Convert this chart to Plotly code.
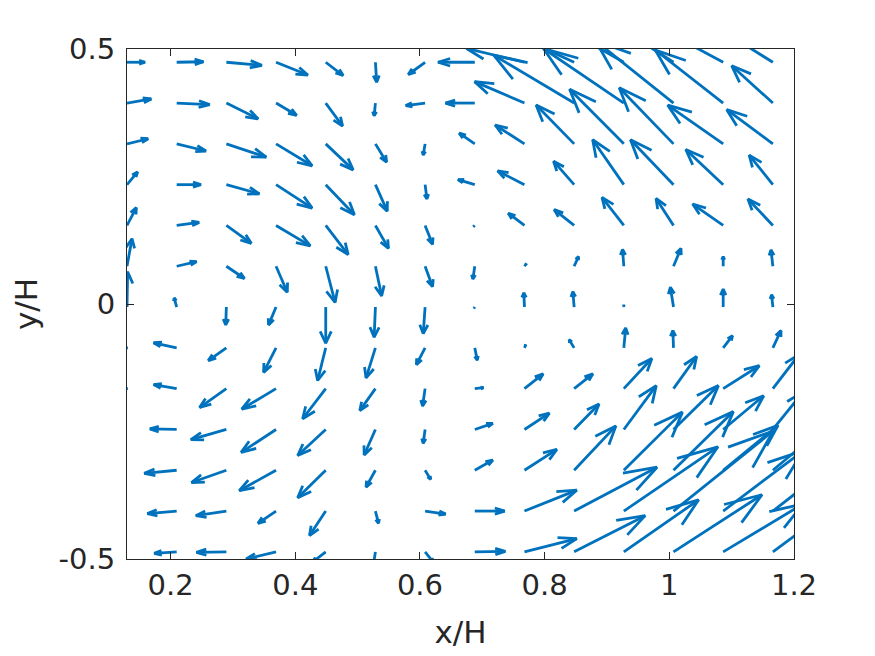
import plotly.graph_objects as go

# Grid of arrow tails (data units)
x_grid = [0.13 + 0.0797 * j for j in range(14)]
y_grid = [0.474 - 0.08 * i for i in range(13)]

# Velocity components as drawn (data units), rows from top (y=0.474) to bottom (y=-0.486)
U = [
    [0.029, 0.043, 0.057, 0.051, 0.028, 0.002, -0.027, -0.059, -0.093, -0.112, -0.112, -0.104, -0.096, -0.080],
    [0.039, 0.053, 0.051, 0.033, 0.027, -0.002, -0.031, -0.047, -0.080, -0.129, -0.129, -0.125, -0.109, -0.066],
    [0.034, 0.047, 0.064, 0.058, 0.044, 0.018, -0.003, -0.025, -0.047, -0.061, -0.087, -0.087, -0.089, -0.074],
    [0.017, 0.039, 0.053, 0.058, 0.046, 0.019, 0.003, -0.027, -0.043, -0.033, -0.050, -0.069, -0.060, -0.038],
    [0.015, 0.036, 0.040, 0.055, 0.036, 0.021, 0.012, -0.002, -0.026, -0.032, -0.035, -0.028, -0.049, -0.040],
    [0.008, 0.032, 0.029, 0.018, 0.015, 0.010, 0.012, -0.003, 0.003, 0.007, -0.002, 0.012, 0.000, -0.003],
    [0.001, -0.004, -0.001, -0.012, 0.000, -0.002, -0.003, -0.001, -0.001, -0.002, 0.000, -0.005, 0.000, -0.002],
    [0.001, -0.037, -0.029, -0.020, -0.013, -0.015, -0.014, 0.004, 0.002, -0.008, 0.003, -0.001, 0.015, 0.013],
    [0.001, -0.037, -0.043, -0.055, -0.037, -0.025, -0.004, 0.014, 0.030, 0.030, 0.045, 0.037, 0.058, 0.042],
    [0.000, -0.043, -0.057, -0.056, -0.045, -0.018, -0.003, 0.029, 0.040, 0.040, 0.052, 0.072, 0.065, 0.048],
    [0.000, -0.052, -0.056, -0.059, -0.045, -0.015, 0.009, 0.029, 0.052, 0.067, 0.094, 0.096, 0.088, 0.080],
    [0.000, -0.047, -0.049, -0.029, -0.026, 0.005, 0.033, 0.048, 0.084, 0.133, 0.151, 0.160, 0.128, 0.120],
    [0.000, -0.036, -0.048, -0.048, -0.021, -0.003, 0.013, 0.049, 0.084, 0.114, 0.120, 0.142, 0.128, 0.120],
]
V = [
    [0.000, 0.001, -0.006, -0.025, -0.026, -0.039, -0.024, 0.000, 0.027, 0.063, 0.078, 0.082, 0.063, 0.061],
    [0.008, -0.003, -0.031, -0.024, -0.045, -0.025, -0.005, 0.000, 0.042, 0.094, 0.107, 0.122, 0.104, 0.073],
    [0.010, -0.014, -0.026, -0.043, -0.051, -0.036, -0.022, 0.021, 0.037, 0.076, 0.107, 0.110, 0.076, 0.067],
    [0.025, 0.000, -0.018, -0.046, -0.059, -0.052, -0.028, 0.010, 0.027, 0.046, 0.088, 0.088, 0.069, 0.058],
    [0.035, 0.006, -0.035, -0.040, -0.057, -0.045, -0.037, -0.002, 0.024, 0.031, 0.055, 0.053, 0.042, 0.052],
    [0.054, 0.009, -0.024, -0.051, -0.071, -0.058, -0.040, -0.025, 0.005, 0.019, 0.033, 0.035, 0.019, 0.032],
    [0.069, 0.018, -0.035, -0.035, -0.071, -0.059, -0.052, -0.002, 0.028, 0.030, 0.004, 0.039, 0.035, 0.024],
    [0.000, 0.010, -0.025, -0.048, -0.064, -0.059, -0.033, -0.024, 0.006, 0.016, 0.039, 0.034, 0.024, 0.034],
    [0.000, 0.008, -0.037, -0.040, -0.059, -0.043, -0.034, 0.002, 0.029, 0.029, 0.059, 0.063, 0.045, 0.067],
    [0.000, 0.001, -0.020, -0.045, -0.051, -0.050, -0.027, 0.012, 0.032, 0.050, 0.086, 0.086, 0.066, 0.073],
    [0.000, -0.006, -0.024, -0.040, -0.054, -0.033, -0.018, 0.020, 0.041, 0.087, 0.114, 0.115, 0.088, 0.082],
    [0.000, -0.005, -0.009, -0.024, -0.048, -0.024, -0.006, 0.000, 0.041, 0.086, 0.126, 0.157, 0.118, 0.114],
    [0.000, -0.003, -0.001, -0.014, -0.020, -0.024, -0.020, 0.001, 0.026, 0.071, 0.102, 0.112, 0.094, 0.108],
]

x_ticks = [0.2, 0.4, 0.6, 0.8, 1.0, 1.2]
x_ticktext = ["0.2", "0.4", "0.6", "0.8", "1", "1.2"]
y_ticks = [-0.5, 0, 0.5]
y_ticktext = ["-0.5", "0", "0.5"]

# MATLAB-style quiver geometry (head size fraction alpha, width fraction beta)
alpha, beta = 0.33, 0.38
px, py = [], []
for i, y0 in enumerate(y_grid):
    for j, x0 in enumerate(x_grid):
        u, v = U[i][j], V[i][j]
        if u == 0 and v == 0:
            continue
        xt, yt = x0 + u, y0 + v
        px += [x0, xt, None]
        py += [y0, yt, None]
        px += [xt - alpha * (u + beta * v), xt, xt - alpha * (u - beta * v), None]
        py += [yt - alpha * (v - beta * u), yt, yt - alpha * (v + beta * u), None]

fig = go.Figure()
fig.add_trace(go.Scatter(x=px, y=py, mode="lines",
                         line=dict(color="#0072BD", width=2.8),
                         hoverinfo="skip", showlegend=False))

axis_font = dict(family="DejaVu Sans", size=29, color="#262626")
title_font = dict(family="DejaVu Sans", size=31, color="#262626")
fig.update_layout(
    width=875, height=656,
    margin=dict(l=119, r=89, t=41, b=105),
    paper_bgcolor="white", plot_bgcolor="white",
    xaxis=dict(range=[0.13, 1.2], tickvals=x_ticks, ticktext=x_ticktext,
               ticks="inside", ticklen=7, tickcolor="#262626", tickwidth=1,
               showline=True, linecolor="#262626", linewidth=1, mirror="ticks",
               showgrid=False, zeroline=False, tickfont=axis_font,
               title=dict(text="x/H", font=title_font, standoff=20)),
    yaxis=dict(range=[-0.5, 0.5], tickvals=y_ticks, ticktext=y_ticktext,
               ticks="inside", ticklen=7, tickcolor="#262626", tickwidth=1,
               showline=True, linecolor="#262626", linewidth=1, mirror="ticks",
               showgrid=False, zeroline=False, tickfont=axis_font,
               ticklabelstandoff=5,
               title=dict(text="y/H", font=title_font, standoff=14)),
)

fig.write_html("out.html")
